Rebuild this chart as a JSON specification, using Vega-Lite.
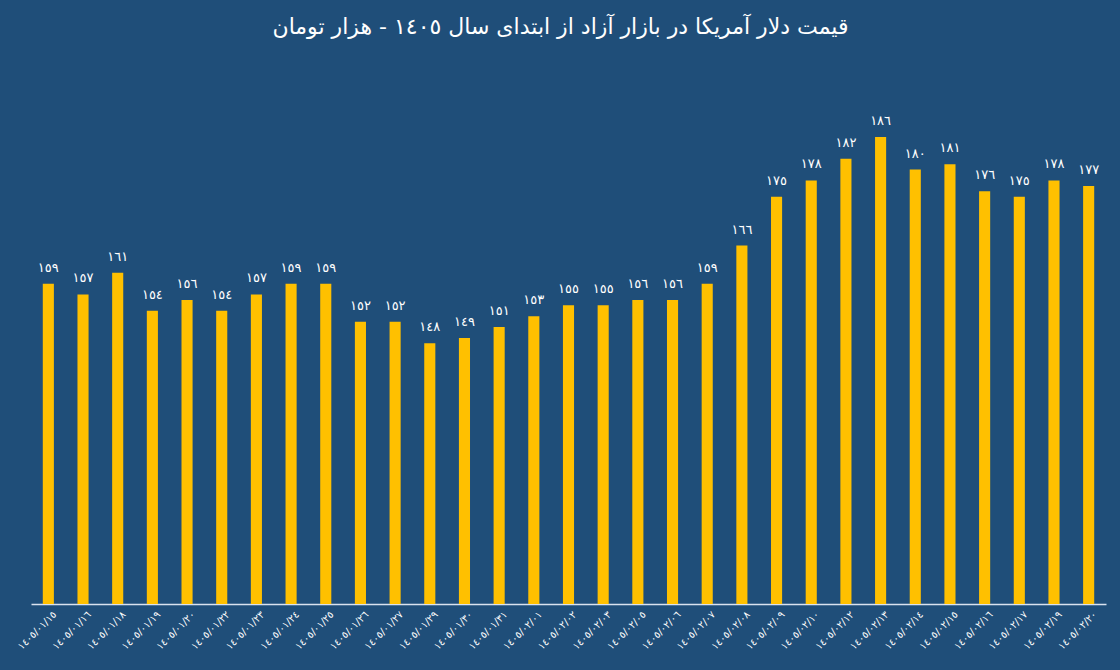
{
  "$schema": "https://vega.github.io/schema/vega-lite/v6.json",
  "width": 1075,
  "height": 543,
  "autosize": {"type": "none"},
  "padding": {"left": 31, "top": 61, "right": 14, "bottom": 66},
  "background": "#1f4e79",
  "title": {
    "text": "قیمت دلار آمریکا در بازار آزاد از ابتدای سال ١٤٠٥ - هزار تومان",
    "color": "#ffffff",
    "font": "DejaVu Sans",
    "fontSize": 22,
    "fontWeight": "normal",
    "anchor": "middle",
    "frame": "group",
    "offset": 22,
    "dx": -8
  },
  "config": {"view": {"stroke": null}},
  "data": {
    "values": [
      {"date": "١٤٠٥/٠١/١٥", "v": 159, "label": "١٥٩"},
      {"date": "١٤٠٥/٠١/١٦", "v": 157, "label": "١٥٧"},
      {"date": "١٤٠٥/٠١/١٨", "v": 161, "label": "١٦١"},
      {"date": "١٤٠٥/٠١/١٩", "v": 154, "label": "١٥٤"},
      {"date": "١٤٠٥/٠١/٢٠", "v": 156, "label": "١٥٦"},
      {"date": "١٤٠٥/٠١/٢٢", "v": 154, "label": "١٥٤"},
      {"date": "١٤٠٥/٠١/٢٣", "v": 157, "label": "١٥٧"},
      {"date": "١٤٠٥/٠١/٢٤", "v": 159, "label": "١٥٩"},
      {"date": "١٤٠٥/٠١/٢٥", "v": 159, "label": "١٥٩"},
      {"date": "١٤٠٥/٠١/٢٦", "v": 152, "label": "١٥٢"},
      {"date": "١٤٠٥/٠١/٢٧", "v": 152, "label": "١٥٢"},
      {"date": "١٤٠٥/٠١/٢٩", "v": 148, "label": "١٤٨"},
      {"date": "١٤٠٥/٠١/٣٠", "v": 149, "label": "١٤٩"},
      {"date": "١٤٠٥/٠١/٣١", "v": 151, "label": "١٥١"},
      {"date": "١٤٠٥/٠٢/٠١", "v": 153, "label": "١٥٣"},
      {"date": "١٤٠٥/٠٢/٠٢", "v": 155, "label": "١٥٥"},
      {"date": "١٤٠٥/٠٢/٠٣", "v": 155, "label": "١٥٥"},
      {"date": "١٤٠٥/٠٢/٠٥", "v": 156, "label": "١٥٦"},
      {"date": "١٤٠٥/٠٢/٠٦", "v": 156, "label": "١٥٦"},
      {"date": "١٤٠٥/٠٢/٠٧", "v": 159, "label": "١٥٩"},
      {"date": "١٤٠٥/٠٢/٠٨", "v": 166, "label": "١٦٦"},
      {"date": "١٤٠٥/٠٢/٠٩", "v": 175, "label": "١٧٥"},
      {"date": "١٤٠٥/٠٢/١٠", "v": 178, "label": "١٧٨"},
      {"date": "١٤٠٥/٠٢/١٢", "v": 182, "label": "١٨٢"},
      {"date": "١٤٠٥/٠٢/١٣", "v": 186, "label": "١٨٦"},
      {"date": "١٤٠٥/٠٢/١٤", "v": 180, "label": "١٨٠"},
      {"date": "١٤٠٥/٠٢/١٥", "v": 181, "label": "١٨١"},
      {"date": "١٤٠٥/٠٢/١٦", "v": 176, "label": "١٧٦"},
      {"date": "١٤٠٥/٠٢/١٧", "v": 175, "label": "١٧٥"},
      {"date": "١٤٠٥/٠٢/١٩", "v": 178, "label": "١٧٨"},
      {"date": "١٤٠٥/٠٢/٢٠", "v": 177, "label": "١٧٧"}
    ]
  },
  "encoding": {
    "x": {
      "field": "date",
      "type": "nominal",
      "sort": null,
      "scale": {"paddingInner": 0.68, "paddingOuter": 0.34},
      "axis": {
        "title": null,
        "labelAngle": -45,
        "labelColor": "#ffffff",
        "labelFont": "DejaVu Sans",
        "labelFontSize": 10,
        "ticks": false,
        "labelPadding": 5,
        "labelOffset": 3,
        "domainColor": "#d9e2ef",
        "domainWidth": 1.3
      }
    },
    "y": {
      "field": "v",
      "type": "quantitative",
      "scale": {"domain": [100, 200], "nice": false, "zero": false},
      "axis": null
    }
  },
  "layer": [
    {"mark": {"type": "bar", "color": "#ffc000", "clip": true}},
    {
      "mark": {"type": "text", "color": "#ffffff", "font": "DejaVu Sans", "fontSize": 13, "baseline": "bottom", "dy": -9},
      "encoding": {"text": {"field": "label"}}
    }
  ]
}
